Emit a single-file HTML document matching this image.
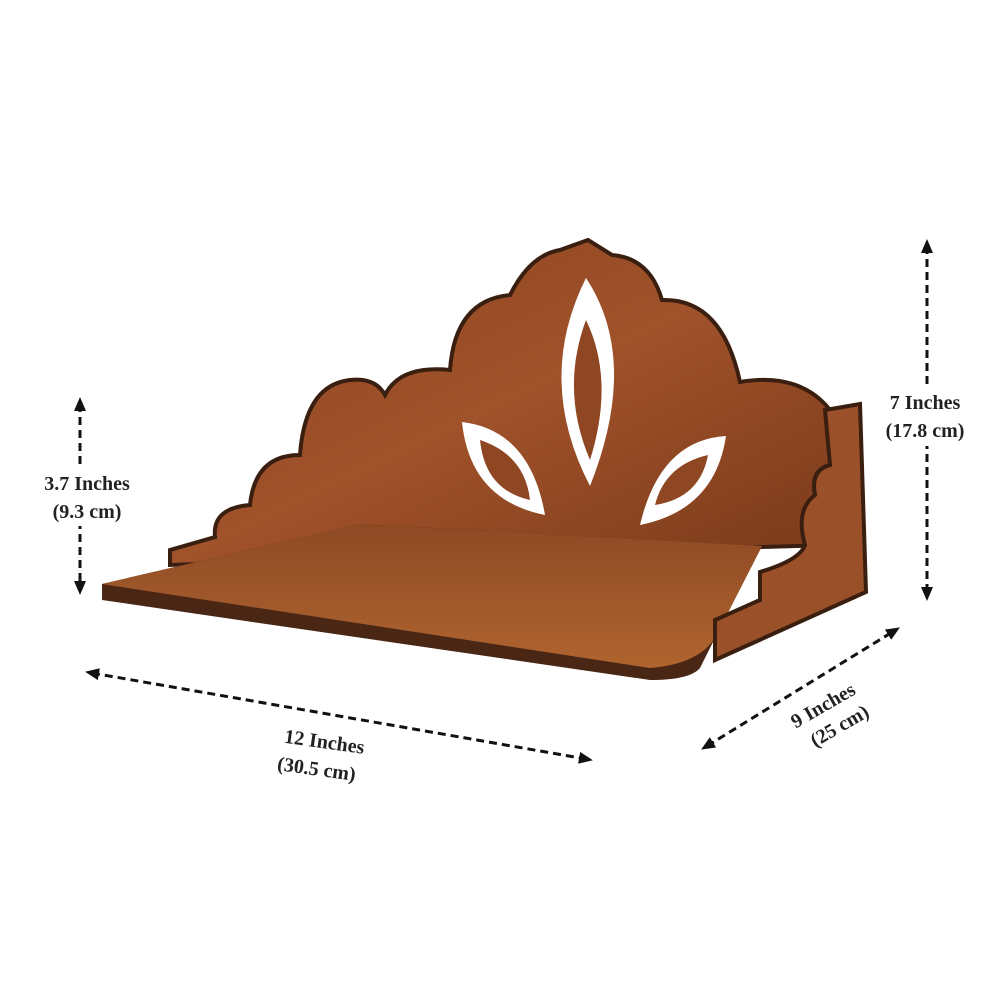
<!DOCTYPE html>
<html><head><meta charset="utf-8"><style>
html,body{margin:0;padding:0;background:#fff;}
svg{display:block;}
text{font-family:"Liberation Serif",serif;font-weight:bold;font-size:20px;fill:#222;}
</style></head><body>
<svg width="1000" height="1000" viewBox="0 0 1000 1000">
<defs>
<linearGradient id="wood" x1="0" y1="0" x2="1" y2="1">
<stop offset="0" stop-color="#8a4420"/><stop offset="0.5" stop-color="#a0522a"/><stop offset="1" stop-color="#7a3a1a"/>
</linearGradient>
<linearGradient id="top" x1="0" y1="0" x2="0" y2="1">
<stop offset="0" stop-color="#8e4a25"/><stop offset="1" stop-color="#b0642f"/>
</linearGradient>
<marker id="ah" markerWidth="14" markerHeight="12" refX="7" refY="6" orient="auto-start-reverse" markerUnits="userSpaceOnUse">
<path d="M0,0 L14,6 L0,12 Z" fill="#111"/></marker>
</defs>
<path d="M170,565 L170,550 L215,537 Q212,508 250,505 Q255,455 300,455 Q305,385 350,380 Q375,377 385,395 Q400,365 450,370 Q455,300 510,295 Q530,255 560,250 L588,240 L612,255 Q650,258 662,300 Q722,298 740,382 Q800,372 830,410 L830,545 Z" fill="url(#wood)" stroke="#3a1e10" stroke-width="4"/>
<path d="M586,278 Q640,360 590,486 Q535,380 586,278 Z" fill="#fff"/>
<path d="M586,320 Q615,380 590,460 Q560,390 586,320 Z" fill="#8f4622"/>
<path d="M462,422 Q530,430 545,515 Q470,500 462,422 Z" fill="#fff"/>
<path d="M480,440 Q525,455 530,500 Q485,490 480,440 Z" fill="#8f4622"/>
<path d="M726,436 Q660,440 640,525 Q715,510 726,436 Z" fill="#fff"/>
<path d="M708,455 Q665,465 655,505 Q700,498 708,455 Z" fill="#8f4622"/>
<path d="M102,584 L360,524 L762,546 L716,636 L700,668 Q690,680 650,680 L102,600 Z" fill="#4a2614"/>
<path d="M102,584 L360,524 L762,546 L716,636 Q700,664 650,668 Z" fill="url(#top)"/>
<path d="M715,660 L715,620 L760,600 L760,572 Q800,560 805,545 Q795,510 815,495 Q810,470 830,465 L825,410 L860,404 L866,592 Z" fill="#9a5028" stroke="#3a1e10" stroke-width="4"/>
<g stroke="#111" stroke-width="3" stroke-dasharray="8,5" fill="none">
<line x1="80" y1="404" x2="80" y2="588" marker-start="url(#ah)" marker-end="url(#ah)"/>
<line x1="927" y1="246" x2="927" y2="594" marker-start="url(#ah)" marker-end="url(#ah)"/>
<line x1="92" y1="673" x2="586" y2="759" marker-start="url(#ah)" marker-end="url(#ah)"/>
<line x1="707" y1="746" x2="894" y2="631" marker-start="url(#ah)" marker-end="url(#ah)"/>
</g>
<rect x="30" y="466" width="115" height="60" fill="#fff"/>
<rect x="872" y="386" width="108" height="60" fill="#fff"/>
<text x="87" y="490" text-anchor="middle">3.7 Inches</text>
<text x="87" y="518" text-anchor="middle">(9.3 cm)</text>
<text x="925" y="409" text-anchor="middle">7 Inches</text>
<text x="925" y="437" text-anchor="middle">(17.8 cm)</text>
<g transform="rotate(8 322 745)"><text x="324" y="748" text-anchor="middle">12 Inches</text>
<text x="320" y="776" text-anchor="middle">(30.5 cm)</text></g>
<g transform="rotate(-30 828 710)"><text x="826" y="710" text-anchor="middle">9 Inches</text>
<text x="830" y="736" text-anchor="middle">(25 cm)</text></g>
</svg>
</body></html>
